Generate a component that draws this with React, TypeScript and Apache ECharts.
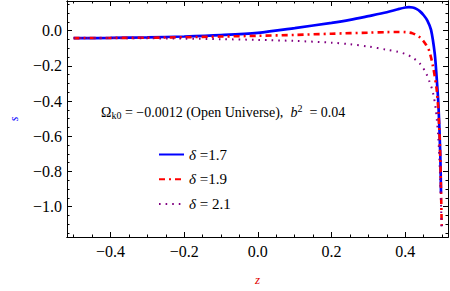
import React, { useEffect, useRef } from "react";
import * as echarts from "echarts";

const zBlue = [-0.5, -0.4, -0.3, -0.2, -0.1, 0, 0.1, 0.2, 0.25, 0.3, 0.35, 0.38, 0.4, 0.41, 0.42, 0.43, 0.44, 0.45, 0.46, 0.47, 0.48, 0.485, 0.49, 0.495, 0.497];
const sBlue = [-0.042, -0.041, -0.038, -0.033, -0.025, -0.012, 0.015, 0.045, 0.062, 0.083, 0.105, 0.122, 0.132, 0.134, 0.132, 0.124, 0.11, 0.088, 0.058, 0.005, -0.13, -0.26, -0.42, -0.7, -0.92];

const zRed = [-0.5, -0.4, -0.3, -0.2, -0.1, 0, 0.1, 0.2, 0.3, 0.35, 0.38, 0.4, 0.42, 0.44, 0.455, 0.465, 0.475, 0.485, 0.49, 0.494, 0.497, 0.499];
const sRed = [-0.042, -0.041, -0.04, -0.037, -0.033, -0.029, -0.024, -0.017, -0.011, -0.008, -0.007, -0.008, -0.015, -0.038, -0.075, -0.115, -0.2, -0.33, -0.46, -0.65, -0.9, -1.12];

const zPurple = [-0.5, -0.4, -0.3, -0.2, -0.1, 0, 0.1, 0.2, 0.25, 0.3, 0.35, 0.38, 0.4, 0.42, 0.44, 0.455, 0.465, 0.475, 0.483, 0.49, 0.495, 0.499];
const sPurple = [-0.042, -0.042, -0.043, -0.045, -0.048, -0.052, -0.058, -0.068, -0.077, -0.09, -0.108, -0.12, -0.132, -0.153, -0.188, -0.235, -0.285, -0.35, -0.45, -0.62, -0.85, -1.14];

const seriesNames = ["δ =1.7", "δ =1.9", "δ = 2.1"];
const xMajor = [-0.4, -0.2, 0, 0.2, 0.4];
const xMinor = [-0.5, -0.45, -0.4, -0.35, -0.3, -0.25, -0.2, -0.15, -0.1, -0.05, 0, 0.05, 0.1, 0.15, 0.2, 0.25, 0.3, 0.35, 0.4, 0.45, 0.5];
const yMajor = [-1.0, -0.8, -0.6, -0.4, -0.2, 0];
const yMinor = [-1.15, -1.1, -1.05, -1.0, -0.95, -0.9, -0.85, -0.8, -0.75, -0.7, -0.65, -0.6, -0.55, -0.5, -0.45, -0.4, -0.35, -0.3, -0.25, -0.2, -0.15, -0.1, -0.05, 0, 0.05, 0.1, 0.15];

const FONT = "'Liberation Serif', 'Times New Roman', serif";

function pairs(xs: number[], ys: number[]) {
  return xs.map((x, i) => [x, ys[i]]);
}

function fmt(v: number) {
  const s = Math.abs(v) < 1e-9 ? "0.0" : v.toFixed(1);
  return s.replace("-", "−");
}

export default function App() {
  const ref = useRef<HTMLDivElement>(null);
  useEffect(() => {
    if (!ref.current) return;
    const chart = echarts.init(ref.current, undefined, { renderer: "svg" });
    const xMin = -0.518, xMax = 0.516, yMin = -1.173, yMax = 0.169;
    const axisLine = { show: true, onZero: false, lineStyle: { color: "#000", width: 1 } };
    const baseX = (pos: string, labels: boolean, major: boolean, name?: boolean) => ({
      type: "value",
      min: xMin,
      max: xMax,
      position: pos,
      axisLine,
      splitLine: { show: false },
      axisTick: {
        show: true,
        inside: true,
        length: major ? 5 : 2.5,
        customValues: major ? xMajor : xMinor,
        lineStyle: { color: "#000" },
      },
      axisLabel: labels
        ? { show: true, customValues: xMajor, formatter: fmt, fontFamily: FONT, fontSize: 16, color: "#000", margin: 6 }
        : { show: false },
      name: name ? "z" : "",
      nameLocation: "middle",
      nameGap: 36,
      nameTextStyle: { color: "#e00000", fontStyle: "italic", fontFamily: FONT, fontSize: 13 },
    });
    const baseY = (pos: string, labels: boolean, major: boolean, name?: boolean) => ({
      type: "value",
      min: yMin,
      max: yMax,
      position: pos,
      axisLine,
      splitLine: { show: false },
      axisTick: {
        show: true,
        inside: true,
        length: major ? 5 : 2.5,
        customValues: major ? yMajor : yMinor,
        lineStyle: { color: "#000" },
      },
      axisLabel: labels
        ? { show: true, customValues: yMajor, formatter: fmt, fontFamily: FONT, fontSize: 16, color: "#000", margin: 5 }
        : { show: false },
      name: name ? "s" : "",
      nameLocation: "middle",
      nameRotate: 90,
      nameGap: 47,
      nameTextStyle: { color: "#0000ff", fontStyle: "italic", fontFamily: FONT, fontSize: 12 },
    });

    chart.setOption({
      animation: false,
      backgroundColor: "#fff",
      grid: { left: 62, right: 2, top: 1, bottom: 52 },
      xAxis: [
        baseX("bottom", true, true, true),
        baseX("bottom", false, false),
        baseX("top", false, true),
        baseX("top", false, false),
      ],
      yAxis: [
        baseY("left", true, true, true),
        baseY("left", false, false),
        baseY("right", false, true),
        baseY("right", false, false),
      ],
      legend: {
        orient: "vertical",
        left: 153,
        top: 142,
        itemWidth: 25,
        itemHeight: 14,
        itemGap: 9.7,
        data: seriesNames,
        itemStyle: { opacity: 0 },
        formatter: (n: string) => n.replace("δ", "{i|δ}"),
        textStyle: {
          fontFamily: FONT,
          fontSize: 15,
          color: "#000",
          rich: { i: { fontStyle: "italic", fontFamily: FONT, fontSize: 15 } },
        },
      },
      graphic: [
        {
          type: "text",
          left: 101,
          top: 103,
          style: {
            text: "{m|Ω}{sub|k0}{m| = −0.0012 (Open Universe),  }{i|b}{sup|2}{m|  = 0.04}",
            rich: {
              m: { fontFamily: FONT, fontSize: 14, fill: "#000" },
              i: { fontFamily: FONT, fontSize: 14, fontStyle: "italic", fill: "#000" },
              sub: { fontFamily: FONT, fontSize: 10, fill: "#000", padding: [7, 0, 0, 0] },
              sup: { fontFamily: FONT, fontSize: 10, fill: "#000", padding: [0, 0, 8, 0] },
            },
          },
        },
      ],
      series: [
        {
          name: seriesNames[0],
          type: "line",
          data: pairs(zBlue, sBlue),
          smooth: 0.3,
          showSymbol: false,
          symbol: "none",
          lineStyle: { color: "#0000ff", width: 2.7 },
          itemStyle: { color: "#0000ff" },
        },
        {
          name: seriesNames[1],
          type: "line",
          data: pairs(zRed, sRed),
          smooth: 0.3,
          showSymbol: false,
          symbol: "none",
          lineStyle: { color: "#ff0000", width: 2.6, type: [6, 4, 2, 4] },
          itemStyle: { color: "#ff0000" },
        },
        {
          name: seriesNames[2],
          type: "line",
          data: pairs(zPurple, sPurple),
          smooth: 0.3,
          showSymbol: false,
          symbol: "none",
          lineStyle: { color: "#800080", width: 2, type: [1.6, 5] },
          itemStyle: { color: "#800080" },
        },
      ],
    });
    return () => chart.dispose();
  }, []);
  return <div ref={ref} style={{ position: "fixed", left: 0, top: 0, width: 450, height: 291 }} />;
}
